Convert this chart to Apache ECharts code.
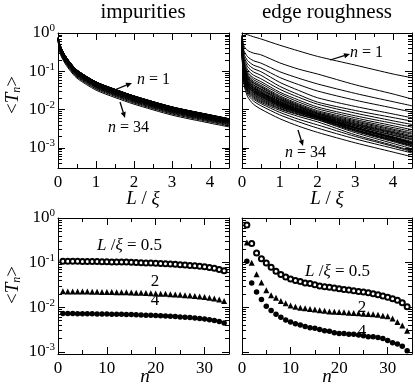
<!DOCTYPE html>
<html><head><meta charset="utf-8">
<script src="https://cdn.jsdelivr.net/npm/echarts@6/dist/echarts.min.js"></script>
<style>html,body{margin:0;padding:0;background:#fff}#c{width:415px;height:386px}</style>
</head><body><div id="c"></div>
<script>
// ---------- DATA ----------
const lengthSamples = [0, 0.05, 0.15, 0.3, 0.5, 1, 1.5, 2, 3, 4, 4.5];
const channelIndex = [1,2,3,4,5,6,7,8,9,10,11,12,13,14,15,16,17,18,19,20,21,22,23,24,25,26,27,28,29,30,31,32,33,34];

// <T_n>(L/xi), impurities, n = 1..34
const impuritiesCurves = [
[0.75,0.50,0.30,0.18,0.108,0.053,0.034,0.0228,0.0118,0.0073,0.0058],
[0.749,0.499,0.299,0.18,0.108,0.0529,0.0339,0.0227,0.0118,0.0073,0.0058],
[0.748,0.497,0.298,0.179,0.1075,0.0528,0.0338,0.0227,0.0117,0.00728,0.00578],
[0.747,0.495,0.297,0.178,0.107,0.0525,0.0337,0.0226,0.0117,0.0072,0.00574],
[0.746,0.494,0.296,0.178,0.1068,0.0524,0.0336,0.0225,0.0117,0.00719,0.00573],
[0.746,0.493,0.296,0.177,0.1065,0.0523,0.0335,0.0225,0.0116,0.00717,0.00571],
[0.745,0.49,0.294,0.176,0.106,0.052,0.0333,0.0223,0.0116,0.00715,0.00568],
[0.744,0.488,0.293,0.176,0.1055,0.0518,0.0332,0.0222,0.0115,0.00712,0.00566],
[0.742,0.485,0.291,0.175,0.105,0.0514,0.033,0.0221,0.0114,0.00708,0.00563],
[0.741,0.483,0.29,0.174,0.1045,0.0512,0.0328,0.022,0.0114,0.00705,0.0056],
[0.74,0.48,0.288,0.173,0.104,0.0509,0.0326,0.0219,0.0113,0.00701,0.00557],
[0.739,0.479,0.287,0.172,0.1035,0.0507,0.0325,0.0218,0.0113,0.00699,0.00555],
[0.739,0.478,0.287,0.172,0.103,0.0506,0.0325,0.0218,0.0113,0.00697,0.00554],
[0.737,0.475,0.285,0.171,0.103,0.0504,0.0323,0.0217,0.0112,0.00694,0.00551],
[0.736,0.473,0.284,0.170,0.102,0.0501,0.0321,0.0215,0.0112,0.0069,0.00548],
[0.734,0.468,0.281,0.168,0.101,0.0496,0.0318,0.0213,0.011,0.00683,0.00542],
[0.731,0.463,0.278,0.167,0.0999,0.049,0.0315,0.0211,0.0109,0.00675,0.00537],
[0.729,0.458,0.275,0.165,0.0988,0.0485,0.0311,0.0209,0.0108,0.00668,0.00531],
[0.726,0.453,0.272,0.163,0.0977,0.048,0.0308,0.0206,0.0107,0.00661,0.00525],
[0.724,0.448,0.269,0.161,0.0967,0.0474,0.0304,0.0204,0.0106,0.00653,0.00519],
[0.721,0.443,0.266,0.159,0.0956,0.0469,0.0301,0.0202,0.0104,0.00646,0.00513],
[0.719,0.438,0.263,0.158,0.0945,0.0464,0.0298,0.02,0.0103,0.00639,0.00508],
[0.715,0.43,0.258,0.155,0.0929,0.0456,0.0292,0.0196,0.0101,0.00628,0.00499],
[0.713,0.425,0.255,0.153,0.0918,0.0451,0.0289,0.0194,0.01,0.0062,0.00493],
[0.709,0.418,0.251,0.150,0.0902,0.0443,0.0284,0.019,0.00985,0.0061,0.00484],
[0.706,0.41,0.246,0.148,0.0886,0.0435,0.0279,0.0187,0.00968,0.00599,0.00476],
[0.702,0.403,0.242,0.145,0.0869,0.0427,0.0274,0.0184,0.0095,0.00588,0.00467],
[0.697,0.393,0.236,0.141,0.0848,0.0416,0.0267,0.0179,0.00926,0.00573,0.00455],
[0.692,0.383,0.23,0.138,0.0826,0.0405,0.026,0.0174,0.00903,0.00558,0.00444],
[0.687,0.373,0.224,0.134,0.0805,0.0395,0.0253,0.017,0.00879,0.00544,0.00432],
[0.681,0.36,0.216,0.13,0.0778,0.0382,0.0245,0.0164,0.0085,0.00526,0.00418],
[0.673,0.345,0.207,0.124,0.0745,0.0366,0.0235,0.0157,0.00814,0.00504,0.004],
[0.664,0.328,0.197,0.118,0.0707,0.0347,0.0223,0.0149,0.00773,0.00478,0.0038],
[0.653,0.305,0.183,0.11,0.0659,0.0323,0.0207,0.0139,0.0072,0.00445,0.00354]
];

// <T_n>(L/xi), edge roughness, n = 1..34
const roughnessCurves = [
[1.0,0.96,0.90,0.80,0.70,0.48,0.34,0.245,0.145,0.085,0.068],
[0.89,0.46,0.35,0.30,0.27,0.166,0.114,0.085,0.0445,0.0256,0.0189],
[0.86,0.35,0.24,0.19,0.164,0.0975,0.066,0.0468,0.0265,0.0161,0.0126],
[0.83,0.29,0.19,0.146,0.123,0.069,0.0449,0.0306,0.0176,0.011,0.0086],
[0.80,0.25,0.156,0.118,0.098,0.0515,0.0317,0.0204,0.0121,0.0077,0.0061],
[0.78,0.22,0.131,0.097,0.079,0.0405,0.0246,0.0157,0.0095,0.0062,0.005],
[0.75,0.194,0.11,0.080,0.064,0.034,0.021,0.0139,0.0081,0.0051,0.0041],
[0.72,0.174,0.095,0.068,0.054,0.0285,0.0178,0.0117,0.0069,0.0044,0.0035],
[0.70,0.16,0.086,0.061,0.048,0.0257,0.0158,0.0105,0.0061,0.0038,0.003],
[0.68,0.149,0.079,0.055,0.043,0.0229,0.0142,0.0094,0.0055,0.0034,0.0027],
[0.65,0.141,0.074,0.051,0.040,0.0214,0.0133,0.0088,0.0051,0.0031,0.00245],
[0.63,0.135,0.070,0.049,0.038,0.0203,0.0126,0.0083,0.0048,0.0029,0.0023],
[0.61,0.126,0.066,0.045,0.035,0.0191,0.0121,0.0081,0.0045,0.0027,0.0021],
[0.59,0.123,0.064,0.044,0.034,0.0185,0.0117,0.0078,0.0043,0.00256,0.00196],
[0.57,0.117,0.060,0.041,0.032,0.0177,0.0112,0.0076,0.0041,0.00248,0.00189],
[0.55,0.111,0.057,0.039,0.030,0.0167,0.0107,0.0073,0.004,0.00234,0.00175],
[0.53,0.107,0.055,0.0377,0.029,0.0163,0.0105,0.0071,0.0038,0.00219,0.00168],
[0.51,0.104,0.053,0.0364,0.028,0.0156,0.0101,0.0069,0.0037,0.00212,0.00161],
[0.50,0.10,0.051,0.035,0.027,0.0153,0.0099,0.0068,0.0035,0.00197,0.00147],
[0.48,0.096,0.049,0.0338,0.026,0.0148,0.0097,0.0067,0.0034,0.0019,0.0014],
[0.46,0.093,0.0475,0.0325,0.025,0.0144,0.0094,0.0065,0.0034,0.00188,0.00138],
[0.45,0.090,0.046,0.0316,0.0243,0.0141,0.0092,0.0065,0.0033,0.00183,0.00133],
[0.43,0.087,0.0448,0.0307,0.0236,0.0137,0.0091,0.0064,0.0033,0.0018,0.0013],
[0.42,0.084,0.043,0.0295,0.0227,0.0133,0.0089,0.0063,0.0032,0.00175,0.00128],
[0.40,0.081,0.0415,0.0284,0.0219,0.0129,0.0086,0.0061,0.003,0.00168,0.00124],
[0.39,0.079,0.0404,0.0277,0.0213,0.0126,0.0085,0.006,0.003,0.0016,0.00118],
[0.376,0.075,0.0381,0.0261,0.020,0.0121,0.0083,0.006,0.0029,0.00158,0.00116],
[0.363,0.0716,0.0364,0.0248,0.019,0.0116,0.008,0.0058,0.0028,0.00153,0.00112],
[0.35,0.068,0.0343,0.0233,0.0178,0.0109,0.0076,0.0055,0.0027,0.00146,0.00106],
[0.34,0.0647,0.0324,0.0219,0.0167,0.0104,0.0073,0.0054,0.0025,0.00131,0.00095],
[0.327,0.0614,0.0305,0.0205,0.0156,0.0096,0.0066,0.0048,0.0022,0.00117,0.00084],
[0.316,0.0578,0.0284,0.019,0.0144,0.0085,0.0056,0.004,0.002,0.0011,0.0008],
[0.305,0.0531,0.0256,0.0169,0.0127,0.0073,0.0048,0.0033,0.00172,0.00098,0.00074],
[0.295,0.0467,0.0216,0.0139,0.0103,0.0058,0.0037,0.00255,0.00136,0.00078,0.00059]
];

// <T_n> versus n at fixed L/xi
const impuritiesL05 = [0.108,0.108,0.1075,0.107,0.1068,0.1065,0.106,0.1055,0.105,0.1045,0.104,0.1035,0.103,0.103,0.102,0.101,0.0999,0.0988,0.0977,0.0967,0.0956,0.0945,0.0929,0.0918,0.0902,0.0886,0.0869,0.0848,0.0826,0.0805,0.0778,0.0745,0.0707,0.0659];
const impuritiesL2 = [0.0228,0.0227,0.0227,0.0226,0.0225,0.0225,0.0223,0.0222,0.0221,0.022,0.0219,0.0218,0.0218,0.0217,0.0215,0.0213,0.0211,0.0209,0.0206,0.0204,0.0202,0.02,0.0196,0.0194,0.019,0.0187,0.0184,0.0179,0.0174,0.017,0.0164,0.0157,0.0149,0.0139];
const impuritiesL4 = [0.0073,0.0073,0.00728,0.0072,0.00719,0.00717,0.00715,0.00712,0.00708,0.00705,0.00701,0.00699,0.00697,0.00694,0.0069,0.00683,0.00675,0.00668,0.00661,0.00653,0.00646,0.00639,0.00628,0.0062,0.0061,0.00599,0.00588,0.00573,0.00558,0.00544,0.00526,0.00504,0.00478,0.00445];
const roughnessL05 = [0.70,0.27,0.164,0.123,0.098,0.079,0.064,0.054,0.048,0.043,0.040,0.038,0.035,0.034,0.032,0.030,0.029,0.028,0.027,0.026,0.025,0.0243,0.0236,0.0227,0.0219,0.0213,0.020,0.019,0.0178,0.0167,0.0156,0.0144,0.0127,0.0103];
const roughnessL2 = [0.283,0.10,0.055,0.036,0.024,0.0185,0.0163,0.0138,0.0123,0.011,0.01035,0.0098,0.0095,0.0092,0.0089,0.0086,0.0084,0.0081,0.0080,0.0079,0.0077,0.0076,0.0075,0.0074,0.0072,0.0071,0.0070,0.0068,0.0065,0.0063,0.0056,0.0047,0.0039,0.0030];
const roughnessL4 = [0.107,0.035,0.022,0.0150,0.0105,0.0085,0.0070,0.0060,0.0052,0.0047,0.0043,0.0040,0.0037,0.0035,0.0034,0.0032,0.0030,0.0029,0.0027,0.0026,0.0026,0.0025,0.0025,0.0024,0.0023,0.0022,0.0022,0.0021,0.0020,0.0018,0.0016,0.0015,0.00134,0.00107];

// ticks
const lengthMajorTicks = [0, 1, 2, 3, 4];
const lengthMinorTicks = [0.5, 1.5, 2.5, 3.5];
const channelMajorTicks = [0, 10, 20, 30];
const channelMinorTicks = [5, 15, 25];
const decadeTicks = [0.001, 0.01, 0.1, 1];
const minorMultipliers = [2, 3, 4, 5, 6, 7, 8, 9];

// ---------- CHART ----------
const FONT = '"Liberation Serif", "Times New Roman", serif';
const chart = echarts.init(document.getElementById('c'), null, {renderer: 'canvas'});

const grids = [
  {left: 58, top: 33, width: 171, height: 135},
  {left: 242, top: 33, width: 170, height: 135},
  {left: 58, top: 218, width: 171, height: 136},
  {left: 242, top: 218, width: 170, height: 136}
];

function logMinors(min, max) {
  const out = [];
  for (let d = -4; d <= 0; d++) {
    minorMultipliers.forEach(m => {
      const v = m * Math.pow(10, d);
      if (v > min * 1.0001 && v < max * 0.9999) out.push(+v.toPrecision(3));
    });
  }
  return out;
}

const xAxes = [], yAxes = [];
function addX(g, min, max, majors, minors, labelled, fmt) {
  const mk = (pos, vals, len, lab, line) => ({
    gridIndex: g, type: 'value', min, max, position: pos,
    splitLine: {show: false}, minorSplitLine: {show: false},
    axisLine: {show: line, onZero: false, lineStyle: {color: '#000', width: 1}},
    axisTick: {show: true, inside: true, length: len, customValues: vals, lineStyle: {color: '#000', width: 1}},
    axisLabel: {show: lab, customValues: vals, color: '#000', fontFamily: FONT, fontSize: 17, margin: 6, formatter: fmt}
  });
  xAxes.push(mk('bottom', majors, 7, labelled, true), mk('bottom', minors, 4, false, false),
             mk('top', majors, 7, false, true), mk('top', minors, 4, false, false));
}
function addY(g, min, max, labelled) {
  const mk = (pos, vals, len, lab, line) => ({
    gridIndex: g, type: 'log', logBase: 10, min, max, position: pos,
    splitLine: {show: false}, minorSplitLine: {show: false},
    axisLine: {show: line, onZero: false, lineStyle: {color: '#000', width: 1}},
    axisTick: {show: true, inside: true, length: len, customValues: vals, lineStyle: {color: '#000', width: 1}},
    axisLabel: {show: lab, customValues: vals, margin: 3,
      formatter: v => '{b|10}{s|' + Math.round(Math.log10(v)) + '}',
      rich: {
        b: {fontFamily: FONT, fontSize: 17, color: '#000'},
        s: {fontFamily: FONT, fontSize: 11, color: '#000', padding: [0, 0, 9, 0]}
      }}
  });
  const minors = logMinors(min, max);
  yAxes.push(mk('left', decadeTicks, 7, labelled, true), mk('left', minors, 4, false, false),
             mk('right', decadeTicks, 7, false, true), mk('right', minors, 4, false, false));
}
const intFmt = v => String(v);
addX(0, 0, 4.5, lengthMajorTicks, lengthMinorTicks, true, intFmt);
addX(1, 0, 4.5, lengthMajorTicks, lengthMinorTicks, true, intFmt);
addX(2, 0, 35, channelMajorTicks, channelMinorTicks, true, intFmt);
addX(3, 0, 35, channelMajorTicks, channelMinorTicks, true, intFmt);
addY(0, 3e-4, 1, true);
addY(1, 3e-4, 1, false);
addY(2, 9e-4, 1, true);
addY(3, 9e-4, 1, false);

const series = [];
function addCurves(g, rows) {
  rows.forEach(row => series.push({
    type: 'line', xAxisIndex: 4 * g, yAxisIndex: 4 * g,
    data: lengthSamples.map((x, i) => [x, row[i]]),
    symbol: 'none', showSymbol: false, smooth: 0.25, silent: true,
    lineStyle: {color: '#000', width: 1, opacity: 1}
  }));
}
addCurves(0, impuritiesCurves);
addCurves(1, roughnessCurves);

function addPoints(g, vals, symbol, size, empty) {
  series.push({
    type: 'scatter', xAxisIndex: 4 * g, yAxisIndex: 4 * g,
    data: channelIndex.map((n, i) => [n, vals[i]]),
    symbol: empty ? 'emptyCircle' : symbol, symbolSize: size, silent: true,
    itemStyle: {color: '#000', borderColor: '#000', borderWidth: empty ? 1 : 0, opacity: 1}
  });
}
addPoints(2, impuritiesL05, 'circle', 5, true);
addPoints(2, impuritiesL2, 'triangle', 6, false);
addPoints(2, impuritiesL4, 'circle', 5.5, false);
addPoints(3, roughnessL05, 'circle', 5, true);
addPoints(3, roughnessL2, 'triangle', 6, false);
addPoints(3, roughnessL4, 'circle', 5.5, false);

// ---------- TEXT / ANNOTATIONS ----------
function txt(x, y, text, size, align, extra) {
  return Object.assign({type: 'text', x, y, silent: true, style: {
    text, fontFamily: FONT, fontSize: size, fill: '#000', align: align || 'center', verticalAlign: 'middle',
    rich: {
      i: {fontFamily: FONT, fontSize: size, fontStyle: 'italic', fill: '#000'},
      r: {fontFamily: FONT, fontSize: size, fill: '#000'},
      sub: {fontFamily: FONT, fontSize: Math.round(size * 0.65), fontStyle: 'italic', fill: '#000', padding: [8, 0, 0, 0]}
    }}}, extra || {});
}
function arrow(x1, y1, x2, y2) {
  const a = Math.atan2(y2 - y1, x2 - x1), h = 6, w = 2.6;
  const bx = x2 - h * Math.cos(a), by = y2 - h * Math.sin(a);
  const px = -Math.sin(a) * w, py = Math.cos(a) * w;
  return [
    {type: 'line', silent: true, shape: {x1, y1, x2: bx, y2: by}, style: {stroke: '#000', lineWidth: 1.3}},
    {type: 'polygon', silent: true, shape: {points: [[x2, y2], [bx + px, by + py], [bx - px, by - py]]}, style: {fill: '#000'}}
  ];
}
const graphics = [
  txt(143, 12, 'impurities', 21),
  txt(327, 12, 'edge roughness', 21),
  txt(143, 199, '{i|L} {r|/} {i|ξ}', 19),
  txt(327, 199, '{i|L} {r|/} {i|ξ}', 19),
  txt(145, 377, '{i|n}', 19),
  txt(327, 377, '{i|n}', 19),
  txt(13, 95, '{r|<}{i|T}{sub|n}{r|>}', 19, 'center', {rotation: Math.PI / 2}),
  txt(13, 285, '{r|<}{i|T}{sub|n}{r|>}', 19, 'center', {rotation: Math.PI / 2}),
  txt(137, 80, '{i|n} = 1', 16, 'left'),
  txt(108, 128, '{i|n} = 34', 16, 'left'),
  txt(350, 53, '{i|n} = 1', 16, 'left'),
  txt(285, 153, '{i|n} = 34', 16, 'left'),
  txt(97, 246, '{i|L} {r|/}{i|ξ} = 0.5', 17, 'left'),
  txt(155, 282, '2', 17),
  txt(155, 301, '4', 17),
  txt(305, 272, '{i|L} {r|/}{i|ξ} = 0.5', 17, 'left'),
  txt(362, 308, '2', 17),
  txt(362, 332, '4', 17),
  ...arrow(112, 91, 132, 83),
  ...arrow(120, 102, 125, 118),
  ...arrow(330, 60, 350, 54),
  ...arrow(298, 130, 303, 146)
];

chart.setOption({
  animation: false,
  backgroundColor: '#fff',
  textStyle: {fontFamily: FONT},
  grid: grids,
  xAxis: xAxes,
  yAxis: yAxes,
  series,
  graphic: graphics
});
</script></body></html>
